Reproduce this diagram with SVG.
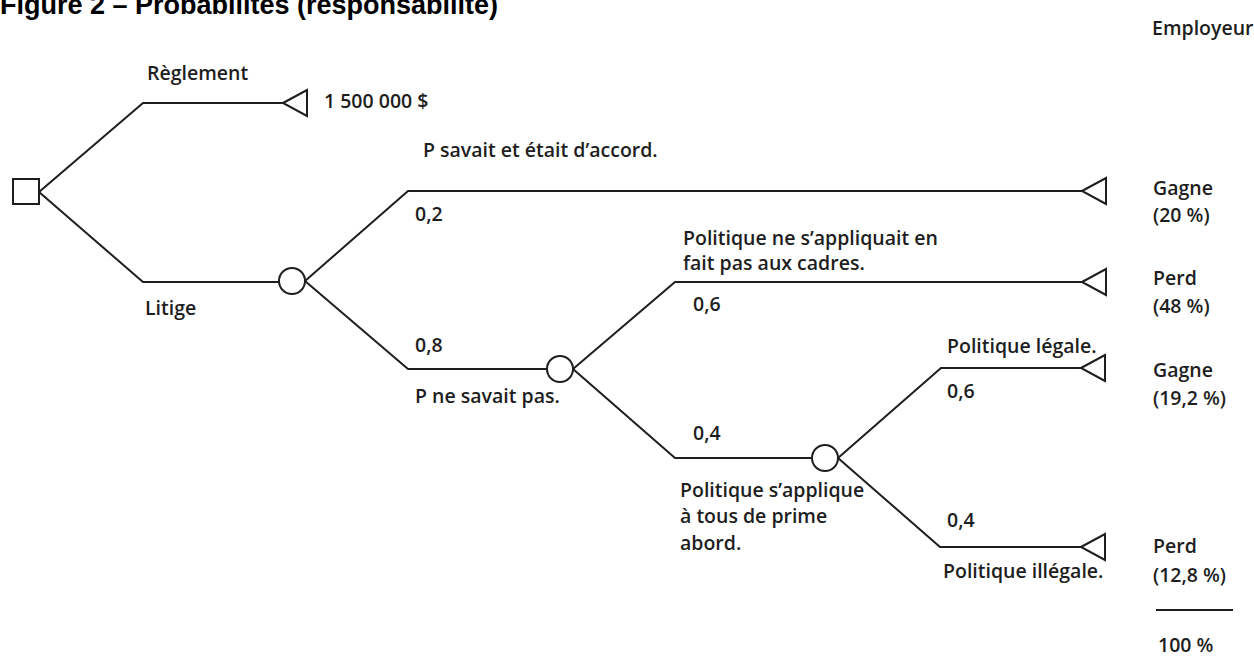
<svg xmlns="http://www.w3.org/2000/svg" width="1254" height="658" viewBox="0 0 1254 658">
<defs>
<style>
.t{font-family:"Open Sans","Liberation Sans",sans-serif;font-size:19.5px;font-weight:600;fill:#1e1e1e}
.title{font-family:"Liberation Sans",Arial,sans-serif;font-size:27px;font-weight:bold;fill:#000}
.ln{fill:none;stroke:#1e1e1e;stroke-width:2}
.nd{fill:#fff;stroke:#1e1e1e;stroke-width:2}
</style>
<polygon id="tri" points="0,0 24,-13 24,13" class="nd"/>
</defs>
<rect width="1254" height="658" fill="#fff"/>
<text class="title" x="0" y="14">Figure 2 – Probabilités (responsabilité)</text>
<g id="connectors">
<path class="ln" d="M39,192 L143,103 L283,103"/>
<path class="ln" d="M39,192 L143,282 L279,282"/>
<path class="ln" d="M305,281 L408,191 L1082,191"/>
<path class="ln" d="M305,281 L408,369 L547,369"/>
<path class="ln" d="M573,369 L675,282 L1082,282"/>
<path class="ln" d="M573,369 L675,458 L812,458"/>
<path class="ln" d="M838,458 L941,368 L1081,368"/>
<path class="ln" d="M838,458 L940,547 L1081,547"/>
</g>
<g id="decision"><rect class="nd" x="13" y="179" width="26" height="25"/></g>
<g id="chance1"><circle class="nd" cx="292" cy="281" r="13"/></g>
<g id="chance2"><circle class="nd" cx="560" cy="369" r="13"/></g>
<g id="chance3"><circle class="nd" cx="825" cy="458" r="13"/></g>
<g id="end-reglement"><use href="#tri" x="283" y="103"/><text class="t" x="324" y="108">1 500 000 $</text></g>
<g id="end-gagne1"><use href="#tri" x="1082" y="191"/><text class="t" x="1153" y="195">Gagne</text><text class="t" x="1153" y="222">(20 %)</text></g>
<g id="end-perd1"><use href="#tri" x="1082" y="282"/><text class="t" x="1153" y="285">Perd</text><text class="t" x="1153" y="313">(48 %)</text></g>
<g id="end-gagne2"><use href="#tri" x="1081" y="368"/><text class="t" x="1153" y="377">Gagne</text><text class="t" x="1153" y="405">(19,2 %)</text></g>
<g id="end-perd2"><use href="#tri" x="1081" y="547"/><text class="t" x="1153" y="553">Perd</text><text class="t" x="1153" y="582">(12,8 %)</text></g>
<g id="labels">
<text class="t" x="147" y="80">Règlement</text>
<text class="t" x="145" y="315">Litige</text>
<text class="t" x="423" y="157">P savait et était d’accord.</text>
<text class="t" x="415" y="221">0,2</text>
<text class="t" x="415" y="352">0,8</text>
<text class="t" x="415" y="403">P ne savait pas.</text>
<text class="t" x="683" y="245">Politique ne s’appliquait en</text>
<text class="t" x="683" y="270">fait pas aux cadres.</text>
<text class="t" x="693" y="311">0,6</text>
<text class="t" x="693" y="440">0,4</text>
<text class="t" x="680" y="497">Politique s’applique</text>
<text class="t" x="680" y="523">à tous de prime</text>
<text class="t" x="680" y="550">abord.</text>
<text class="t" x="947" y="353">Politique légale.</text>
<text class="t" x="947" y="398">0,6</text>
<text class="t" x="947" y="527">0,4</text>
<text class="t" x="943" y="578">Politique illégale.</text>
</g>
<g id="total">
<text class="t" x="1152" y="35">Employeur</text>
<line class="ln" x1="1156" y1="610" x2="1233" y2="610"/>
<text class="t" x="1158" y="652">100 %</text>
</g>
</svg>
